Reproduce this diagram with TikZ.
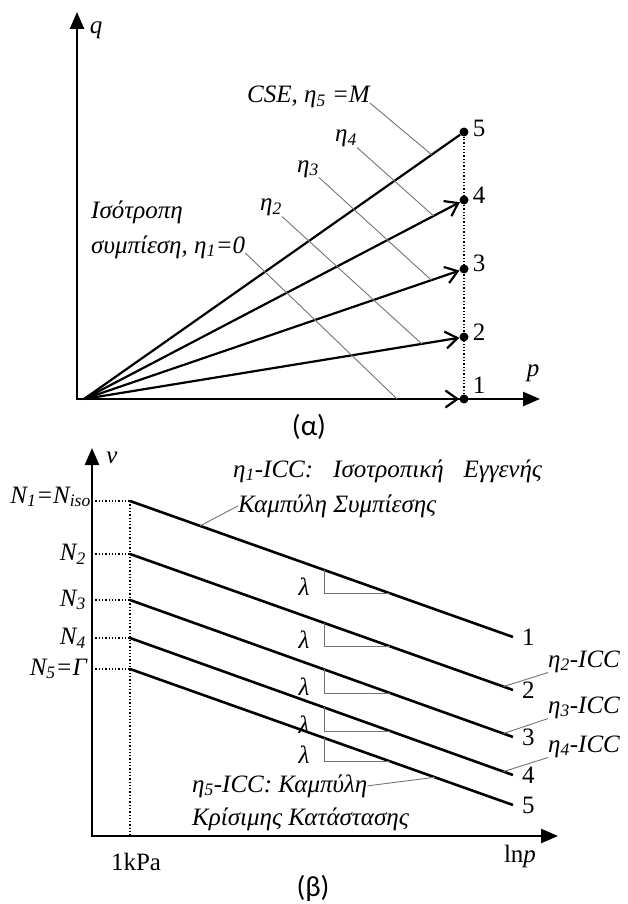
\documentclass[tikz,border=0pt]{standalone}
\usepackage{fontspec}
\setmainfont{Liberation Serif}
\newfontfamily\capfont{Carlito}
\usetikzlibrary{arrows.meta, positioning, calc}
\newcommand{\figsize}{\fontsize{25}{30}\selectfont}
\tikzset{
  axes/.style={line width=2.6pt, {Triangle[length=17pt,width=14pt]}-{Triangle[length=17pt,width=14pt]}},
  ray/.style={line width=2.2pt, -{Straight Barb[length=12pt,width=17pt]}},
  plainray/.style={line width=2.2pt},
  pt/.style={circle, fill=black, inner sep=0pt, minimum size=9pt},
  guide/.style={dotted, line width=1.3pt},
  leader/.style={black!55, line width=0.9pt},
  icc/.style={line width=2.6pt},
  lbl/.style={font=\figsize\itshape, inner sep=0pt},
  num/.style={font=\figsize, inner sep=0pt},
  capt/.style={font=\capfont\fontsize{29}{34}\selectfont}
}
\newcommand{\slopemark}[3]{%
  \coordinate (#3a) at ($(#1)!0.5065!(#2)$);
  \coordinate (#3c) at ($(#1)!0.68!(#2)$);
  \draw[leader] (#3a) |- (#3c);
  \node[lbl] (#3l) at ($(#3a)+(-20,17)$) {λ};
}

\begin{document}
\begin{tikzpicture}[x=1pt, y=-1pt, font=\figsize]
        \useasboundingbox (0,0) rectangle (628,904);

        % (a) q-p plane
        \coordinate (qO) at (77,399);
        \coordinate (qtop) at (77,12);
        \coordinate (pend) at (540,399);
        \draw[axes] (qtop) -- (qO) -- (pend);
        \node[lbl] (qlab) at (96,30) {q};
        \node[lbl] (plab) at (533,373) {p};

        % End points
        \coordinate (O) at (84,399);
        \node[pt] (P1) at (464,399) {};
        \node[pt] (P2) at (464,337) {};
        \node[pt] (P3) at (464,269) {};
        \node[pt] (P4) at (464,200) {};
        \node[pt] (P5) at (464,132) {};
        \draw[guide] (P1) -- (P5);

        \node[num, right=4pt of P1, yshift=14pt] (t1) {1};
        \node[num, right=4pt of P2, yshift=5pt] (t2) {2};
        \node[num, right=4pt of P3, yshift=6pt] (t3) {3};
        \node[num, right=4pt of P4, yshift=5pt] (t4) {4};
        \node[num, right=4pt of P5, yshift=4pt] (t5) {5};

        % Stress paths
        \draw[ray] (O) -- (P1);
        \draw[ray] (O) -- (P2);
        \draw[ray] (O) -- (P3);
        \draw[ray] (O) -- (P4);
        \draw[plainray] (O) -- (P5);

        % Labels
        \node[lbl, anchor=base west] (l5) at (247,103) {CSE, η\textsubscript{5} =M};
        \node[lbl, anchor=base west] (l4) at (335,142) {η\textsubscript{4}};
        \node[lbl, anchor=base west] (l3) at (297,172) {η\textsubscript{3}};
        \node[lbl, anchor=base west] (l2) at (260,211) {η\textsubscript{2}};
        \node[lbl, anchor=base west] (l0) at (91,218) {Ισότροπη};
        \node[lbl, anchor=base west] (l1) at (91,253) {συμπίεση, η\textsubscript{1}=0};

        \coordinate (h1) at ($(O)!0.824!(P1)$);
        \coordinate (h2) at ($(O)!0.889!(P2)$);
        \coordinate (h3) at ($(O)!0.914!(P3)$);
        \coordinate (h4) at ($(O)!0.92!(P4)$);
        \coordinate (h5) at ($(O)!0.915!(P5)$);
        \draw[leader] (l1.base east) -- (h1);
        \draw[leader] (l2.south east) -- (h2);
        \draw[leader] (l3.south east) -- (h3);
        \draw[leader] (l4.south east) -- (h4);
        \draw[leader] (l5.base east) -- (h5);

        \node[capt] (capa) at (309,427) {(α)};

        % (b) v-lnp plane
        \coordinate (vO) at (92,836);
        \coordinate (vtop) at (92,448);
        \coordinate (lnend) at (558,836);
        \draw[axes] (vtop) -- (vO) -- (lnend);
        \node[lbl] (vlab) at (112,458) {v};
        \node[num] (lnp) at (520,856) {ln\textit{p}};
        \node[num] (kpa) at (136,862) {1kPa};

        % Compression lines
        \coordinate (K) at (130,836);
        \coordinate (S1) at (130,501);
        \coordinate (S2) at (130,554);
        \coordinate (S3) at (130,600);
        \coordinate (S4) at (130,638);
        \coordinate (S5) at (130,669);
        \coordinate (E1) at (513,637);
        \coordinate (E2) at (513,690);
        \coordinate (E3) at (513,737);
        \coordinate (E4) at (513,775);
        \coordinate (E5) at (513,805);

        \draw[guide] (S1) -- (K);
        \draw[guide] (S1 -| vO) -- (S1);
        \draw[guide] (S2 -| vO) -- (S2);
        \draw[guide] (S3 -| vO) -- (S3);
        \draw[guide] (S4 -| vO) -- (S4);
        \draw[guide] (S5 -| vO) -- (S5);

        \draw[icc] (S1) -- (E1);
        \draw[icc] (S2) -- (E2);
        \draw[icc] (S3) -- (E3);
        \draw[icc] (S4) -- (E4);
        \draw[icc] (S5) -- (E5);

        \node[num, right=9pt of E1] (e1) {1};
        \node[num, right=9pt of E2] (e2) {2};
        \node[num, right=9pt of E3] (e3) {3};
        \node[num, right=9pt of E4] (e4) {4};
        \node[num, right=9pt of E5] (e5) {5};

        \node[lbl, anchor=east] (n1) at (91,497) {N\textsubscript{1}=N\textsubscript{iso}};
        \node[lbl, anchor=east] (n2) at (86,554) {N\textsubscript{2}};
        \node[lbl, anchor=east] (n3) at (86,600) {N\textsubscript{3}};
        \node[lbl, anchor=east] (n4) at (86,638) {N\textsubscript{4}};
        \node[lbl, anchor=east] (n5) at (87,669) {N\textsubscript{5}=Γ};

        % Slopes
        \slopemark{S1}{E1}{m1}
        \slopemark{S2}{E2}{m2}
        \slopemark{S3}{E3}{m3}
        \slopemark{S4}{E4}{m4}
        \slopemark{S5}{E5}{m5}

        % Curve names
        \node[lbl, anchor=base west] (i1) at (233,477) {η\textsubscript{1}-ICC:\hspace{0.8em}Ισοτροπική\hspace{0.8em}Εγγενής};
        \node[lbl, anchor=base west] (k1) at (238,512) {Καμπύλη Συμπίεσης};
        \node[lbl, anchor=base west] (i2) at (548,667) {η\textsubscript{2}-ICC};
        \node[lbl, anchor=base west] (i3) at (548,713) {η\textsubscript{3}-ICC};
        \node[lbl, anchor=base west] (i4) at (548,752) {η\textsubscript{4}-ICC};
        \node[lbl, anchor=base west] (i5) at (192,792) {η\textsubscript{5}-ICC: Καμπύλη};
        \node[lbl, anchor=base west] (k5) at (192,825) {Κρίσιμης Κατάστασης};

        \coordinate (g1) at ($(S1)!0.183!(E1)$);
        \coordinate (g2) at ($(S2)!0.975!(E2)$);
        \coordinate (g3) at ($(S3)!0.975!(E3)$);
        \coordinate (g4) at ($(S4)!0.975!(E4)$);
        \coordinate (g5) at ($(S5)!0.796!(E5)$);
        \draw[leader] (k1.west) -- (g1);
        \draw[leader] (i2.south west) -- (g2);
        \draw[leader] (i3.south west) -- (g3);
        \draw[leader] (i4.south west) -- (g4);
        \draw[leader] (i5.east) -- (g5);

        \node[capt] (capb) at (313,888) {(β)};
    \end{tikzpicture}
\end{document}
